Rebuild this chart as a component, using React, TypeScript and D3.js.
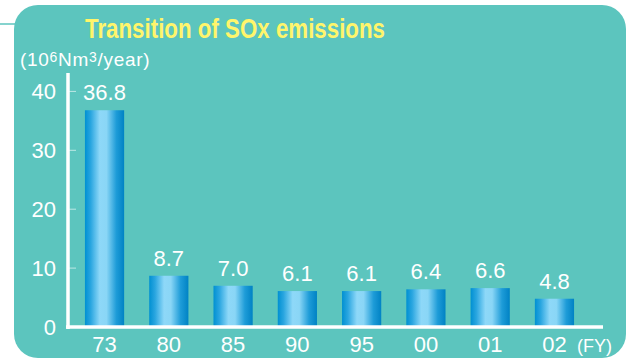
import React, { useEffect, useRef } from 'react';
import * as d3 from 'd3';

const years = ['73', '80', '85', '90', '95', '00', '01', '02'];
const emissions = [36.8, 8.7, 7.0, 6.1, 6.1, 6.4, 6.6, 4.8];
const yTicks = [0, 10, 20, 30, 40];

const App: React.FC = () => {
  const svgRef = useRef<SVGSVGElement>(null);

  useEffect(() => {
    if (!svgRef.current) return;
    const svg = d3.select(svgRef.current);
    svg.selectAll('*').remove();

    const width = 628;
    const height = 360;
    const teal = '#5cc5be';
    const font = '"Liberation Sans", Arial, sans-serif';

    svg.append('rect').attr('width', width).attr('height', height).attr('fill', '#fff');

    // panel
    svg.append('line')
      .attr('x1', 0).attr('x2', 16).attr('y1', 24).attr('y2', 24)
      .attr('stroke', teal).attr('stroke-width', 1.5);
    svg.append('rect')
      .attr('x', 14).attr('y', 5)
      .attr('width', 612).attr('height', 353)
      .attr('rx', 24).attr('fill', teal);

    // bar gradient
    const grad = svg.append('defs').append('linearGradient')
      .attr('id', 'barGrad').attr('x1', '0%').attr('x2', '100%').attr('y1', '0%').attr('y2', '0%');
    [
      ['0%', '#0090d2'],
      ['15%', '#2aa6e0'],
      ['38%', '#8ed8f8'],
      ['55%', '#8ad6f6'],
      ['80%', '#1e9cd8'],
      ['100%', '#0082c4'],
    ].forEach(([o, c]) => grad.append('stop').attr('offset', o).attr('stop-color', c));

    // title
    svg.append('text')
      .attr('x', 85).attr('y', 37.5)
      .attr('fill', '#fff56b')
      .attr('font-family', '"Liberation Sans Narrow", "Liberation Sans", Arial, sans-serif')
      .attr('font-weight', 'bold')
      .attr('font-size', 27)
      .attr('textLength', 300)
      .attr('lengthAdjust', 'spacingAndGlyphs')
      .text('Transition of SOx emissions');

    // unit label
    const unit = svg.append('text')
      .attr('x', 20).attr('y', 66)
      .attr('fill', '#fff')
      .attr('font-family', font)
      .attr('font-size', 19)
      .attr('letter-spacing', 0.7);
    unit.append('tspan').text('(10');
    unit.append('tspan').attr('font-size', 14).attr('dy', -4).text('6');
    unit.append('tspan').attr('dy', 4).text('Nm');
    unit.append('tspan').attr('font-size', 14).attr('dy', -4).text('3');
    unit.append('tspan').attr('dy', 4).text('/year)');

    const x = d3.scaleBand<string>()
      .domain(years)
      .range([72.4, 586.6])
      .paddingInner(0.39)
      .paddingOuter(0.195);

    const y = d3.scaleLinear().domain([0, 40]).range([327, 91.4]);

    // y ticks
    const g = svg.append('g');
    yTicks.forEach(t => {
      if (t > 0) {
        g.append('line')
          .attr('x1', 69).attr('x2', 76)
          .attr('y1', y(t)).attr('y2', y(t))
          .attr('stroke', 'rgba(255,255,255,0.6)').attr('stroke-width', 1);
      }
      g.append('text')
        .attr('x', 56).attr('y', y(t) + 8)
        .attr('text-anchor', 'end')
        .attr('fill', '#fff')
        .attr('font-family', font)
        .attr('font-size', 22)
        .text(t);
    });

    // bars
    svg.append('g')
      .selectAll('rect')
      .data(emissions)
      .enter()
      .append('rect')
      .attr('x', (_, i) => x(years[i])!)
      .attr('y', d => y(d))
      .attr('width', x.bandwidth())
      .attr('height', d => y(0) - y(d))
      .attr('fill', 'url(#barGrad)');

    // value labels
    svg.append('g')
      .selectAll('text')
      .data(emissions)
      .enter()
      .append('text')
      .attr('x', (_, i) => x(years[i])! + x.bandwidth() / 2)
      .attr('y', d => y(d) - 10)
      .attr('text-anchor', 'middle')
      .attr('fill', '#fff')
      .attr('font-family', font)
      .attr('font-size', 22)
      .text(d => d.toFixed(1));

    // axes
    svg.append('line')
      .attr('x1', 68).attr('x2', 68).attr('y1', 73).attr('y2', 329)
      .attr('stroke', '#fff').attr('stroke-width', 3.5);
    svg.append('line')
      .attr('x1', 66).attr('x2', 603).attr('y1', 327).attr('y2', 327)
      .attr('stroke', '#fff').attr('stroke-width', 3.5);

    // x labels
    svg.append('g')
      .selectAll('text')
      .data(years)
      .enter()
      .append('text')
      .attr('x', d => x(d)! + x.bandwidth() / 2)
      .attr('y', 352)
      .attr('text-anchor', 'middle')
      .attr('fill', '#fff')
      .attr('font-family', font)
      .attr('font-size', 22)
      .text(d => d);

    svg.append('text')
      .attr('x', 577).attr('y', 352)
      .attr('fill', '#fff')
      .attr('font-family', font)
      .attr('font-size', 18)
      .text('(FY)');
  }, []);

  return (
    <svg
      ref={svgRef}
      width={628}
      height={360}
      viewBox="0 0 628 360"
      style={{ position: 'absolute', left: 0, top: 0, display: 'block' }}
    />
  );
};

export default App;
